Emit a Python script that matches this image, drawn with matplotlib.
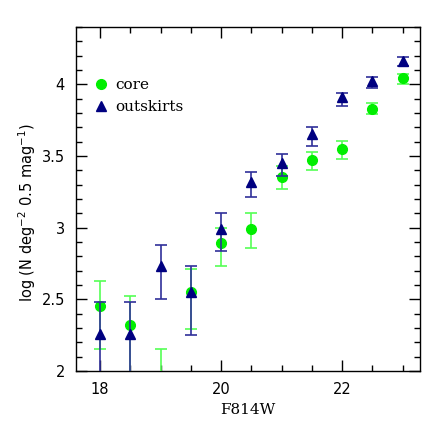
import matplotlib

matplotlib.use("Agg")
import matplotlib.pyplot as plt
from matplotlib.ticker import MultipleLocator

# magnitude bins
mag = [18.0, 18.5, 19.0, 19.5, 20.0, 20.5, 21.0, 21.5, 22.0, 22.5, 23.0]

# core: log N, lower / upper error
core_y = [2.45, 2.32, 1.90, 2.55, 2.89, 2.99, 3.35, 3.47, 3.545, 3.83, 4.04]
core_lo = [0.30, 0.40, 0.40, 0.26, 0.16, 0.13, 0.08, 0.07, 0.065, 0.04, 0.04]
core_hi = [0.18, 0.20, 0.25, 0.16, 0.11, 0.11, 0.08, 0.06, 0.06, 0.04, 0.03]

# outskirts
out_y = [2.26, 2.26, 2.73, 2.55, 2.99, 3.32, 3.45, 3.65, 3.91, 4.02, 4.16]
out_lo = [0.40, 0.40, 0.23, 0.30, 0.15, 0.11, 0.09, 0.08, 0.06, 0.05, 0.035]
out_hi = [0.22, 0.22, 0.15, 0.18, 0.11, 0.07, 0.06, 0.05, 0.03, 0.03, 0.03]

GREEN = "#00ee00"
GREEN_ERR = "#55ff55"
NAVY = "#000080"
NAVY_ERR = "#30309a"

fig = plt.figure(figsize=(4.47, 4.47), dpi=100)
ax = fig.add_axes([0.170, 0.170, 0.770, 0.770])

ax.errorbar(
    mag, core_y, yerr=[core_lo, core_hi],
    fmt="o", color=GREEN, ecolor=GREEN_ERR, markersize=7,
    elinewidth=1.2, capsize=4.3, capthick=1.2, label="core", zorder=3,
)
ax.errorbar(
    mag, out_y, yerr=[out_lo, out_hi],
    fmt="^", color=NAVY, ecolor=NAVY_ERR, markersize=7,
    elinewidth=1.2, capsize=4.3, capthick=1.2, label="outskirts", zorder=4,
)

ax.set_xlim(17.6, 23.29)
ax.set_ylim(2.0, 4.4)
ax.xaxis.set_major_locator(MultipleLocator(2))
ax.xaxis.set_minor_locator(MultipleLocator(0.5))
ax.yaxis.set_major_locator(MultipleLocator(0.5))
ax.yaxis.set_minor_locator(MultipleLocator(0.1))
ax.yaxis.set_major_formatter(plt.FuncFormatter(lambda v, p: f"{v:g}"))
ax.tick_params(which="both", direction="in", top=True, right=True,
               labelsize=10.5, pad=8)
ax.tick_params(which="major", length=8, width=1)
ax.tick_params(which="minor", length=4, width=1)
for s in ax.spines.values():
    s.set_linewidth(1)

ax.set_xlabel("F814W", family="DejaVu Serif", fontsize=11, labelpad=4)
ax.set_ylabel(r"log (N deg$^{-2}$ 0.5 mag$^{-1}$)",
              family="DejaVu Sans", fontsize=10.5)
ax.yaxis.set_label_coords(-0.11, 0.46)

handles, labels = ax.get_legend_handles_labels()
handles = [h[0] for h in handles]
ax.legend(handles, labels, loc="upper left", bbox_to_anchor=(0.0, 0.89),
          frameon=False, prop={"family": "DejaVu Serif", "size": 11},
          handletextpad=0.2, labelspacing=0.5, handlelength=1.5)

fig.savefig("out.png", dpi=100)
plt.close("all")
